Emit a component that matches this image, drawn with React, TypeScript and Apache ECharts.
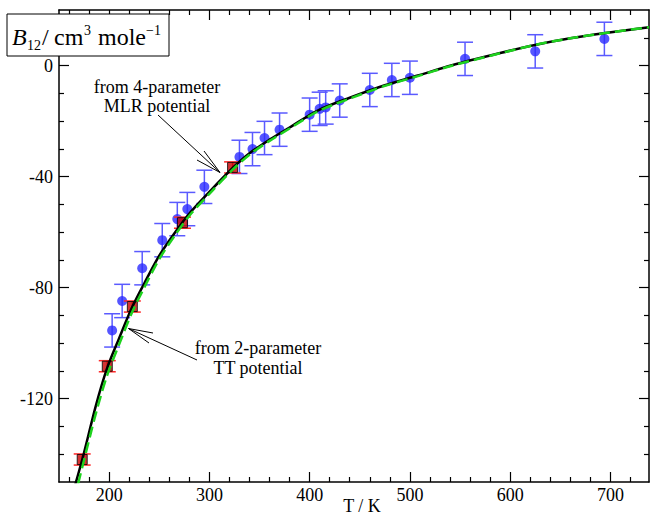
import React, { useEffect, useRef } from "react";
import * as echarts from "echarts";

// ---- axis ticks ----
const X_MAJOR = [200, 300, 400, 500, 600, 700];
const X_MINOR = [160, 180, 220, 240, 260, 280, 320, 340, 360, 380, 420, 440, 460, 480, 520, 540, 560, 580, 620, 640, 660, 680, 720];
const Y_MAJOR = [-120, -80, -40, 0];
const Y_MINOR = [-140, -130, -110, -100, -90, -70, -60, -50, -30, -20, -10, 10];

// ---- 4-parameter MLR curve (black) ----
const T_MLR = [166, 174, 187, 198, 210, 223, 235, 250, 265, 280, 300, 323, 340, 360, 380, 408, 440, 475, 508, 541, 590, 626, 660, 695, 738.5];
const B_MLR = [-151.2, -140.8, -122.2, -109, -98.2, -87, -78.5, -68.5, -60.5, -53.3, -45.5, -37, -31.6, -26.7, -22.3, -16.2, -11.6, -7.1, -3.6, 0, 4.5, 7.5, 9.8, 11.7, 13.8];

// ---- 2-parameter TT curve (green dashed) ----
const T_TT = [169, 174, 187, 198, 210, 223, 235, 250, 265, 280, 300, 323, 340, 360, 380, 408, 440, 475, 508, 541, 590, 626, 660, 695, 738.5];
const B_TT = [-150.7, -143.5, -125, -111.6, -100.4, -88.8, -80, -69.7, -61.5, -54.1, -46.2, -37.6, -32.1, -27.15, -22.7, -16.55, -11.9, -7.35, -3.8, -0.15, 4.4, 7.5, 9.8, 11.7, 13.8];

// ---- experimental points (blue circles) ----
const T_EXP = [203, 213, 233, 253, 268, 278, 295, 330, 343, 355, 370, 400, 410, 416, 430, 460, 482, 500, 555, 625, 694];
const B_EXP = [-95.4, -84.8, -73, -62.9, -55.3, -51.7, -43.7, -32.9, -30.1, -26.1, -23.1, -17.7, -15.6, -15.1, -12.6, -8.8, -5.2, -4.4, 2.4, 5.1, 9.6];
const E_EXP = [6, 6, 6, 6, 6, 6, 6, 6, 6, 6, 6, 6, 6, 6, 6, 6, 6, 6, 6, 6, 6];

// ---- reference points (red squares) ----
const T_REF = [173.15, 198.15, 223.15, 273.15, 323.15];
const B_REF = [-141.9, -108.3, -86.8, -56.6, -36.7];
const E_REF = [2, 2, 2, 2, 2];

const FONT = "'Liberation Serif', 'Times New Roman', serif";

function errorBars(data: number[][], color: string, halfW: number, z: number) {
  return {
    type: "custom",
    data,
    z,
    encode: { x: 0, y: 1 },
    renderItem: (_p: any, api: any) => {
      const x = api.value(0);
      const y = api.value(1);
      const e = api.value(2);
      const top = api.coord([x, y + e]);
      const bot = api.coord([x, y - e]);
      const st = { stroke: color, lineWidth: 1.5 };
      return {
        type: "group",
        children: [
          { type: "line", shape: { x1: top[0], y1: top[1], x2: bot[0], y2: bot[1] }, style: st },
          { type: "line", shape: { x1: top[0] - halfW, y1: top[1], x2: top[0] + halfW, y2: top[1] }, style: st },
          { type: "line", shape: { x1: bot[0] - halfW, y1: bot[1], x2: bot[0] + halfW, y2: bot[1] }, style: st },
        ],
      };
    },
  };
}

function tickAxis(kind: "x" | "y", position: string, values: number[], len: number, labels: boolean, line: boolean) {
  const base: any = {
    type: "value",
    position,
    min: kind === "x" ? 150 : -150,
    max: kind === "x" ? 738.5 : 20,
    splitLine: { show: false },
    axisLine: { show: line, onZero: false, lineStyle: { color: "#000", width: 1.5 } },
    axisTick: { show: true, inside: true, length: len, customValues: values, lineStyle: { color: "#000", width: 1.2 } },
    axisLabel: labels
      ? { show: true, customValues: values, fontFamily: FONT, fontSize: 18, color: "#000", margin: kind === "x" ? 4 : 6, formatter: (v: number) => String(v) }
      : { show: false },
  };
  return base;
}

export default function App() {
  const ref = useRef<HTMLDivElement>(null);
  useEffect(() => {
    if (!ref.current) return;
    const chart = echarts.init(ref.current, undefined, { renderer: "svg" });
    const expBars = T_EXP.map((t, i) => [t, B_EXP[i], E_EXP[i]]);
    const refBars = T_REF.map((t, i) => [t, B_REF[i], E_REF[i]]);
    const txt = (text: string, x: number, y: number, size: number, extra: any = {}) => ({
      type: "text",
      x,
      y,
      z: 101,
      style: { text, fontFamily: FONT, fontSize: size, fill: "#000", align: "left", verticalAlign: "middle", ...extra },
    });
    const ln = (x1: number, y1: number, x2: number, y2: number) => ({
      type: "line",
      z: 101,
      shape: { x1, y1, x2, y2 },
      style: { stroke: "#000", lineWidth: 1 },
    });
    chart.setOption({
      animation: false,
      backgroundColor: "#fff",
      grid: { left: 59, top: 10, right: 1, bottom: 35, containLabel: false },
      xAxis: [
        tickAxis("x", "bottom", X_MAJOR, 10, true, true),
        tickAxis("x", "bottom", X_MINOR, 5, false, false),
        tickAxis("x", "top", X_MAJOR, 10, false, true),
        tickAxis("x", "top", X_MINOR, 5, false, false),
      ],
      yAxis: [
        tickAxis("y", "left", Y_MAJOR, 10, true, true),
        tickAxis("y", "left", Y_MINOR, 5, false, false),
        tickAxis("y", "right", Y_MAJOR, 10, false, true),
        tickAxis("y", "right", Y_MINOR, 5, false, false),
      ],
      series: [
        errorBars(expBars, "#5a5aff", 8, 2),
        {
          type: "scatter",
          data: T_EXP.map((t, i) => [t, B_EXP[i]]),
          symbol: "circle",
          symbolSize: 10,
          itemStyle: { color: "#2a2aff" },
          z: 3,
        },
        errorBars(refBars, "#ff2a2a", 8.5, 4),
        {
          type: "scatter",
          data: T_REF.map((t, i) => [t, B_REF[i]]),
          symbol: "rect",
          symbolSize: 10,
          itemStyle: { color: "#c80000", borderColor: "#000", borderWidth: 1 },
          z: 5,
        },
        {
          type: "line",
          data: T_MLR.map((t, i) => [t, B_MLR[i]]),
          showSymbol: false,
          smooth: 0.3,
          lineStyle: { color: "#000", width: 2.5 },
          z: 6,
        },
        {
          type: "line",
          data: T_TT.map((t, i) => [t, B_TT[i]]),
          showSymbol: false,
          smooth: 0.3,
          lineStyle: { color: "#1ed21e", width: 2.5, type: [11, 5] },
          z: 7,
        },
      ],
      graphic: [
        {
          type: "rect",
          z: 100,
          shape: { x: 7, y: 14, width: 162, height: 42 },
          style: { fill: "#fff", stroke: "#000", lineWidth: 1 },
        },
        txt("B", 12, 37, 24, { fontStyle: "italic" }),
        txt("12", 27, 45, 14),
        txt("/", 42, 37, 24),
        txt("cm", 54, 37, 24),
        txt("3", 84, 30, 14),
        txt("mole", 98, 37, 24),
        txt("\u22121", 146, 30, 14),
        txt("from 4-parameter", 157, 87, 18, { align: "center" }),
        txt("MLR potential", 157, 106, 18, { align: "center" }),
        txt("from 2-parameter", 258, 348, 18, { align: "center" }),
        txt("TT potential", 258, 368, 18, { align: "center" }),
        txt("T / K", 362, 506, 18, { align: "center" }),
        ln(158, 115, 220, 172.5),
        ln(220, 172.5, 204, 151),
        ln(220, 172.5, 197, 160),
        ln(197, 360, 128.5, 328.5),
        ln(128.5, 328.5, 153, 333),
        ln(128.5, 328.5, 149, 343),
      ],
    });
    return () => chart.dispose();
  }, []);
  return <div ref={ref} style={{ position: "absolute", left: 0, top: 0, width: 650, height: 517 }} />;
}
